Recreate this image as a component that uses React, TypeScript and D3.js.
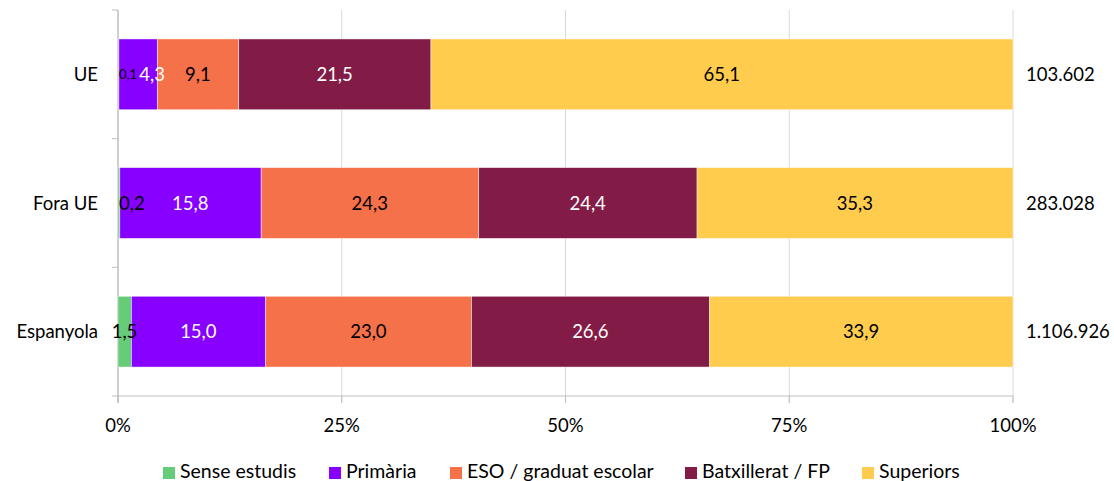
import React from "react";
import * as d3 from "d3";

const categories = ["UE", "Fora UE", "Espanyola"];
const seriesNames = ["Sense estudis", "Primària", "ESO / graduat escolar", "Batxillerat / FP", "Superiors"];
const senseEstudis = [0.1, 0.2, 1.5];
const primaria = [4.3, 15.8, 15.0];
const eso = [9.1, 24.3, 23.0];
const batxillerat = [21.5, 24.4, 26.6];
const superiors = [65.1, 35.3, 33.9];
const totals = [103602, 283028, 1106926];
const xTicks = [0, 0.25, 0.5, 0.75, 1];

const colors = ["#66CC77", "#8800FF", "#F5714A", "#821C47", "#FFCC4D"];
const labelColors = ["#000", "#fff", "#000", "#fff", "#000"];

const W = 1114, H = 481;
const left = 118, right = 1013, top = 10, bottom = 396;
const FONT = "Lato, 'Open Sans', sans-serif";
const FS = 18.5;
const LFS = 19.5;

const locale = d3.formatLocale({ decimal: ",", thousands: ".", grouping: [3], currency: ["", "€"] });
const fmtVal = locale.format(".1f");
const fmtTot = locale.format(",d");
const fmtPct = d3.format(".0%");

function textWidth(s: string, fs: number) {
  let w = 0;
  for (const c of s) w += c === "," || c === "." ? 0.25 * fs : 0.58 * fs;
  return w;
}

export default function App() {
  const seriesValues = [senseEstudis, primaria, eso, batxillerat, superiors];
  const rows = categories.map((c, i) => {
    const r: any = { cat: c };
    seriesNames.forEach((s, j) => (r[s] = seriesValues[j][i]));
    return r;
  });
  const stacked = d3.stack().keys(seriesNames).offset(d3.stackOffsetExpand)(rows);

  const x = d3.scaleLinear().domain([0, 1]).range([left, right]);
  const y = d3.scaleBand().domain(categories).range([top, bottom]).paddingInner(0.45).paddingOuter(0.225);
  const step = y.step();

  const labels: any[] = [];
  categories.forEach((cat, ci) => {
    let prevEnd = -Infinity;
    stacked.forEach((layer, si) => {
      const d = layer[ci];
      const v = seriesValues[si][ci];
      const x0 = x(d[0]), x1 = x(d[1]);
      const txt = fmtVal(v);
      const fs = v < 0.15 ? 13 : FS;
      const w = textWidth(txt, fs);
      let start = x1 - x0 < 5 ? x0 + 1 : (x0 + x1) / 2 - w / 2;
      if (start < prevEnd + 2) start = prevEnd + 2;
      prevEnd = start + w;
      labels.push({ cat, txt, fs, start, color: labelColors[si], key: cat + si });
    });
  });

  const legendX = [163, 329, 450, 685, 862];

  return (
    <svg width={W} height={H} style={{ position: "absolute", left: 0, top: 0 }} fontFamily={FONT}>
      <rect width={W} height={H} fill="#fff" />
      {xTicks.map((t) => (
        <line key={"g" + t} x1={x(t)} x2={x(t)} y1={top} y2={bottom + 7} stroke={t === 0 ? "#BFBFBF" : "#D9D9D9"} strokeWidth={1} />
      ))}
      <line x1={left} x2={right} y1={bottom} y2={bottom} stroke="#BFBFBF" />
      <line x1={left} x2={left} y1={top} y2={bottom + 7} stroke="#BFBFBF" />
      {d3.range(categories.length + 1).map((i) => (
        <line key={"yt" + i} x1={left - 6} x2={left} y1={top + i * step} y2={top + i * step} stroke="#BFBFBF" />
      ))}
      {xTicks.map((t) => (
        <line key={"xt" + t} x1={x(t)} x2={x(t)} y1={bottom} y2={bottom + 7} stroke="#BFBFBF" />
      ))}
      {stacked.map((layer, si) =>
        layer.map((d, ci) => (
          <rect
            key={si + "-" + ci}
            x={x(d[0])}
            width={Math.max(0, x(d[1]) - x(d[0]))}
            y={y(categories[ci])!}
            height={y.bandwidth()}
            fill={colors[si]}
            stroke="#fff"
            strokeOpacity={0.6}
            strokeWidth={0.75}
          />
        ))
      )}
      {labels.map((l) => (
        <text key={l.key} x={l.start} y={y(l.cat)! + y.bandwidth() / 2 + (l.fs === FS ? 6.5 : 4.5)} fontSize={l.fs} fill={l.color}>
          {l.txt}
        </text>
      ))}
      {categories.map((c) => (
        <text key={"c" + c} x={98} y={y(c)! + y.bandwidth() / 2 + 6.5} fontSize={FS} textAnchor="end" fill="#000">
          {c}
        </text>
      ))}
      {categories.map((c, i) => (
        <text key={"t" + c} x={1026} y={y(c)! + y.bandwidth() / 2 + 6.5} fontSize={FS} fill="#000">
          {fmtTot(totals[i])}
        </text>
      ))}
      {xTicks.map((t) => (
        <text key={"xl" + t} x={x(t)} y={432} fontSize={FS} textAnchor="middle" fill="#000">
          {fmtPct(t)}
        </text>
      ))}
      {seriesNames.map((s, i) => (
        <g key={"lg" + s} transform={`translate(${legendX[i]},0)`}>
          <rect x={0} y={467} width={12} height={12} fill={colors[i]} />
          <text x={17} y={478} fontSize={LFS} fill="#000">
            {s}
          </text>
        </g>
      ))}
    </svg>
  );
}
